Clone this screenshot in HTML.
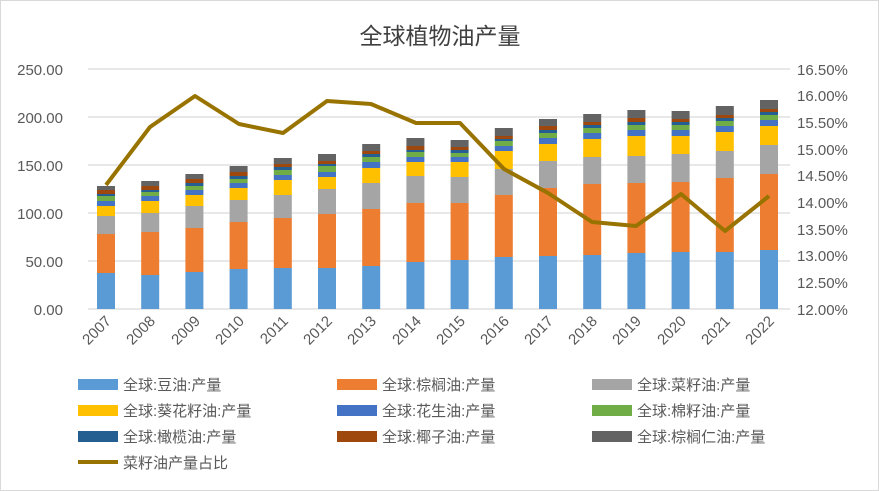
<!DOCTYPE html>
<html><head><meta charset="utf-8"><style>
body{margin:0;background:#fff}
svg{display:block;font-family:"Liberation Sans","Noto Sans CJK SC",sans-serif}
</style></head><body>
<svg id="s" width="879" height="491" viewBox="0 0 879 491">
<rect x="0.5" y="0.5" width="878" height="490" fill="#fff" stroke="#d9d9d9"/>
<text x="440" y="44" text-anchor="middle" font-size="23" fill="#404040">全球植物油产量</text>
<g stroke="#d9d9d9" stroke-width="1.3">
<line x1="88" x2="790" y1="69" y2="69"/><line x1="88" x2="790" y1="117" y2="117"/><line x1="88" x2="790" y1="165" y2="165"/><line x1="88" x2="790" y1="213" y2="213"/><line x1="88" x2="790" y1="261" y2="261"/><line x1="88" x2="790" y1="309" y2="309"/>
</g>
<g font-size="15" fill="#595959" text-anchor="end">
<text x="63" y="75">250.00</text><text x="63" y="123">200.00</text><text x="63" y="171">150.00</text><text x="63" y="219">100.00</text><text x="63" y="267">50.00</text><text x="63" y="315">0.00</text>
</g>
<g font-size="15" fill="#595959">
<text x="797" y="75">16.50%</text><text x="797" y="101">16.00%</text><text x="797" y="128">15.50%</text><text x="797" y="155">15.00%</text><text x="797" y="181">14.50%</text><text x="797" y="208">14.00%</text><text x="797" y="235">13.50%</text><text x="797" y="261">13.00%</text><text x="797" y="288">12.50%</text><text x="797" y="315">12.00%</text>
</g>
<g id="bars"></g>
<polyline fill="none" stroke="#997300" stroke-width="4" stroke-linejoin="round" points="106,185 150,127 195,96 239,124 283,133 327,101 371,104 416,123 460,123 504,169 548,193 592,222 636,226 681,194 725,231 769,196"/>
<g font-size="15" fill="#595959" text-anchor="end">
<text transform="translate(112,322) rotate(-45)">2007</text>
<text transform="translate(156,322) rotate(-45)">2008</text>
<text transform="translate(201,322) rotate(-45)">2009</text>
<text transform="translate(245,322) rotate(-45)">2010</text>
<text transform="translate(289,322) rotate(-45)">2011</text>
<text transform="translate(333,322) rotate(-45)">2012</text>
<text transform="translate(377,322) rotate(-45)">2013</text>
<text transform="translate(422,322) rotate(-45)">2014</text>
<text transform="translate(466,322) rotate(-45)">2015</text>
<text transform="translate(510,322) rotate(-45)">2016</text>
<text transform="translate(554,322) rotate(-45)">2017</text>
<text transform="translate(598,322) rotate(-45)">2018</text>
<text transform="translate(642,322) rotate(-45)">2019</text>
<text transform="translate(687,322) rotate(-45)">2020</text>
<text transform="translate(731,322) rotate(-45)">2021</text>
<text transform="translate(775,322) rotate(-45)">2022</text>
</g>
<g font-size="15" fill="#595959">
<rect x="78" y="379" width="40" height="11" fill="#5b9bd5"/><text x="123" y="390">全球:豆油:产量</text>
<rect x="337" y="379" width="40" height="11" fill="#ed7d31"/><text x="382" y="390">全球:棕榈油:产量</text>
<rect x="592" y="379" width="40" height="11" fill="#a5a5a5"/><text x="637" y="390">全球:菜籽油:产量</text>
<rect x="78" y="405" width="40" height="11" fill="#ffc000"/><text x="123" y="416">全球:葵花籽油:产量</text>
<rect x="337" y="405" width="40" height="11" fill="#4472c4"/><text x="382" y="416">全球:花生油:产量</text>
<rect x="592" y="405" width="40" height="11" fill="#70ad47"/><text x="637" y="416">全球:棉籽油:产量</text>
<rect x="78" y="431" width="40" height="11" fill="#255e91"/><text x="123" y="442">全球:橄榄油:产量</text>
<rect x="337" y="431" width="40" height="11" fill="#9e480e"/><text x="382" y="442">全球:椰子油:产量</text>
<rect x="592" y="431" width="40" height="11" fill="#636363"/><text x="637" y="442">全球:棕榈仁油:产量</text>
<line x1="78" x2="118" y1="462" y2="462" stroke="#997300" stroke-width="4"/><text x="123" y="468">菜籽油产量占比</text>
</g>
</svg>
<script>
var d=[[273,234,216,206,201,196,194,190,186],[275,232,213,201,196,192,190,186,181],[272,228,206,195,190,186,183,179,174],[269,222,200,188,183,179,176,172,166],[268,218,195,180,175,170,167,164,158],[268,214,189,177,172,166,164,161,154],[266,209,183,168,162,157,154,151,144],[262,203,176,162,157,152,150,146,138],[260,203,177,162,157,153,150,147,140],[257,195,169,151,146,141,139,136,128],[256,188,161,144,138,133,130,126,119],[255,184,157,139,133,128,125,122,114],[253,183,156,136,130,125,122,118,110],[252,182,154,136,130,125,122,119,111],[252,178,151,132,126,121,118,115,106],[250,174,145,126,120,115,112,109,100]];
var c=["#5b9bd5","#ed7d31","#a5a5a5","#ffc000","#4472c4","#70ad47","#255e91","#9e480e","#636363"];
var g=document.getElementById("bars"),h="";
d.forEach(function(b,i){var x=106+44.2*i-9,prev=309;b.forEach(function(t,k){h+='<rect x="'+x.toFixed(1)+'" y="'+t+'" width="18" height="'+(prev-t)+'" fill="'+c[k]+'"/>';prev=t;});});
g.innerHTML=h;
</script>
</body></html>
